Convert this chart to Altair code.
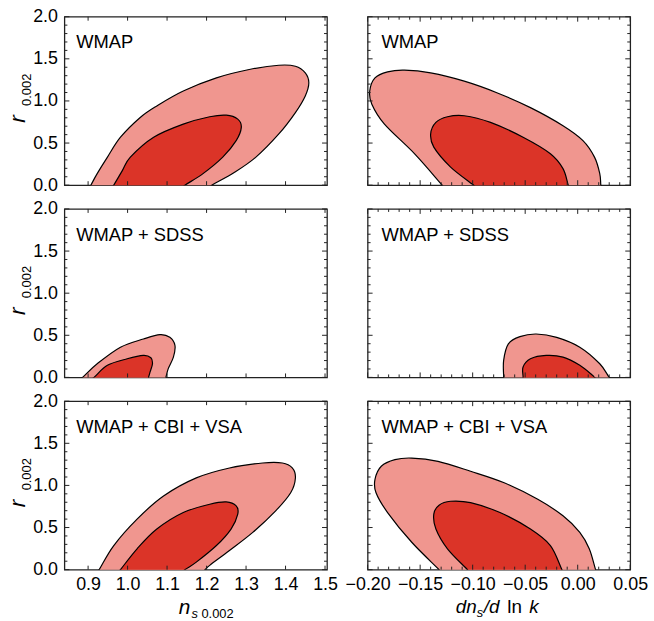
import altair as alt
import pandas as pd

# ---------------- data ----------------
# WMAP  (n_s vs r)
wmap_ns_outer_x = [0.907, 0.923, 0.949, 0.982, 1.032, 1.074, 1.141, 1.225, 1.308, 1.383, 1.425, 1.450, 1.459, 1.450, 1.425, 1.383, 1.325, 1.270, 1.213]
wmap_ns_outer_y = [0.000, 0.137, 0.333, 0.569, 0.804, 0.941, 1.118, 1.274, 1.373, 1.424, 1.412, 1.333, 1.215, 1.059, 0.862, 0.608, 0.333, 0.150, 0.000]
wmap_ns_inner_x = [0.965, 0.987, 1.007, 1.066, 1.141, 1.208, 1.250, 1.279, 1.288, 1.275, 1.241, 1.191, 1.145]
wmap_ns_inner_y = [0.000, 0.176, 0.333, 0.569, 0.725, 0.812, 0.831, 0.784, 0.686, 0.529, 0.333, 0.137, 0.000]
# WMAP  (dn_s/dlnk vs r)
wmap_run_outer_x = [-0.129, -0.155, -0.184, -0.196, -0.198, -0.193, -0.181, -0.165, -0.140, -0.108, -0.077, -0.045, -0.014, 0.005, 0.016, 0.021, 0.022]
wmap_run_outer_y = [0.000, 0.369, 0.725, 0.961, 1.118, 1.274, 1.345, 1.365, 1.333, 1.235, 1.098, 0.921, 0.706, 0.529, 0.333, 0.137, 0.000]
wmap_run_inner_x = [-0.099, -0.121, -0.137, -0.140, -0.135, -0.124, -0.108, -0.083, -0.052, -0.026, -0.014, -0.009]
wmap_run_inner_y = [0.000, 0.215, 0.451, 0.608, 0.745, 0.812, 0.824, 0.745, 0.569, 0.373, 0.196, 0.000]
# WMAP + SDSS
sdss_ns_outer_x = [0.886, 0.923, 0.982, 1.040, 1.082, 1.107, 1.120, 1.116, 1.103, 1.097]
sdss_ns_outer_y = [0.000, 0.162, 0.359, 0.456, 0.508, 0.476, 0.379, 0.241, 0.104, 0.000]
sdss_ns_inner_x = [0.915, 0.949, 0.999, 1.040, 1.059, 1.063, 1.057, 1.053]
sdss_ns_inner_y = [0.000, 0.144, 0.221, 0.261, 0.233, 0.162, 0.065, 0.000]
sdss_run_outer_x = [-0.0705, -0.0705, -0.066, -0.055, -0.0395, -0.020, 0.002, 0.021, 0.030]
sdss_run_outer_y = [0.000, 0.202, 0.398, 0.484, 0.515, 0.476, 0.359, 0.162, 0.000]
sdss_run_inner_x = [-0.052, -0.052, -0.045, -0.030, -0.014, 0.002, 0.014, 0.016]
sdss_run_inner_y = [0.000, 0.124, 0.221, 0.261, 0.241, 0.144, 0.026, 0.000]
# WMAP + CBI + VSA
cbi_ns_outer_x = [0.928, 0.965, 1.024, 1.091, 1.174, 1.258, 1.342, 1.392, 1.417, 1.425, 1.413, 1.375, 1.317, 1.258, 1.208, 1.196]
cbi_ns_outer_y = [0.000, 0.286, 0.600, 0.874, 1.089, 1.207, 1.266, 1.266, 1.207, 1.089, 0.913, 0.698, 0.442, 0.227, 0.051, 0.000]
cbi_ns_inner_x = [0.982, 1.024, 1.074, 1.141, 1.208, 1.250, 1.275, 1.279, 1.262, 1.225, 1.174, 1.145]
cbi_ns_inner_y = [0.000, 0.247, 0.482, 0.678, 0.776, 0.804, 0.756, 0.659, 0.482, 0.286, 0.089, 0.000]
cbi_run_outer_x = [-0.132, -0.158, -0.181, -0.192, -0.193, -0.187, -0.174, -0.158, -0.133, -0.102, -0.070, -0.038, -0.014, 0.002, 0.011, 0.017]
cbi_run_outer_y = [0.000, 0.325, 0.678, 0.913, 1.071, 1.227, 1.306, 1.325, 1.286, 1.168, 1.031, 0.835, 0.639, 0.442, 0.247, 0.000]
cbi_run_inner_x = [-0.105, -0.124, -0.135, -0.137, -0.132, -0.121, -0.102, -0.074, -0.045, -0.026, -0.015]
cbi_run_inner_y = [0.000, 0.247, 0.482, 0.659, 0.765, 0.812, 0.795, 0.678, 0.482, 0.286, 0.000]

panel_labels = ["WMAP", "WMAP + SDSS", "WMAP + CBI + VSA"]

y_major = [0.0, 0.5, 1.0, 1.5, 2.0]
y_minor = [0.1, 0.2, 0.3, 0.4, 0.6, 0.7, 0.8, 0.9, 1.1, 1.2, 1.3, 1.4, 1.6, 1.7, 1.8, 1.9]
ns_major = [0.9, 1.0, 1.1, 1.2, 1.3, 1.4, 1.5]
run_major = [-0.20, -0.15, -0.10, -0.05, 0.00, 0.05]
run_minor = [-0.19, -0.18, -0.17, -0.16, -0.14, -0.13, -0.12, -0.11, -0.09, -0.08, -0.07,
             -0.06, -0.04, -0.03, -0.02, -0.01, 0.01, 0.02, 0.03, 0.04]

# ---------------- styling ----------------
FONT = "Liberation Sans"
LIGHT = "#F0968F"
DARK = "#DB3428"
EDGE = "#222222"
W, H = 265, 170
NS_DOM = [0.84, 1.505]
RUN_DOM = [-0.20, 0.05]
BELOW = -0.15  # clip helper: contours are closed below the r = 0 edge, out of view


def contour_df(xs, ys):
    # continue the first and last edge a little below r = 0 so that the
    # clipped closed curve meets the lower frame cleanly
    x0, y0, x1, y1 = xs[0], ys[0], xs[1], ys[1]
    t0 = (y0 - BELOW) / max(y1 - y0, 1e-6)
    xa, ya, xb, yb = xs[-1], ys[-1], xs[-2], ys[-2]
    t1 = (ya - BELOW) / max(yb - ya, 1e-6)
    px = [x0 + (x0 - x1) * t0] + list(xs) + [xa + (xa - xb) * t1]
    py = [BELOW] + list(ys) + [BELOW]
    return pd.DataFrame({"x": px, "y": py, "o": list(range(len(px)))})


def one_row():
    return pd.DataFrame({"d": [0]})


def panel(outer, inner, label, col, bottom):
    xdom = NS_DOM if col == 0 else RUN_DOM
    if bottom:
        xaxis = alt.Axis(values=ns_major if col == 0 else run_major,
                         format=".1f" if col == 0 else ".2f",
                         title=None, labelPadding=6, labelFlush=False, labelOverlap=False)
    else:
        xaxis = alt.Axis(labels=False, title=None)
    if col == 0:
        yaxis = alt.Axis(values=y_major, format=".1f", title=None, labelPadding=7, labelFlush=False)
    else:
        yaxis = alt.Axis(labels=False, title=None)
    X = alt.X("x:Q", scale=alt.Scale(domain=xdom, nice=False, zero=False), axis=xaxis)
    Y = alt.Y("y:Q", scale=alt.Scale(domain=[0, 2], nice=False), axis=yaxis)

    layers = []
    for (cx, cy), color in ((outer, LIGHT), (inner, DARK)):
        layers.append(
            alt.Chart(contour_df(cx, cy)).mark_line(
                fill=color, stroke="black", strokeWidth=1.2,
                interpolate="cardinal-closed", clip=True
            ).encode(x=X, y=Y, order="o:Q")
        )

    # inward tick marks on all four sides
    def yticks(vals, L):
        df = pd.DataFrame({"y": vals})
        return [
            alt.Chart(df).mark_rule(color=EDGE, strokeWidth=1).encode(y=Y, x=alt.value(0), x2=alt.value(L)),
            alt.Chart(df).mark_rule(color=EDGE, strokeWidth=1).encode(y=Y, x=alt.value(W - L), x2=alt.value(W)),
        ]

    def xticks(vals, L):
        df = pd.DataFrame({"x": vals})
        return [
            alt.Chart(df).mark_rule(color=EDGE, strokeWidth=1).encode(x=X, y=alt.value(H), y2=alt.value(H - L)),
            alt.Chart(df).mark_rule(color=EDGE, strokeWidth=1).encode(x=X, y=alt.value(0), y2=alt.value(L)),
        ]

    layers += yticks(y_major, 5) + yticks(y_minor, 3)
    if col == 0:
        layers += xticks(ns_major, 4)
    else:
        layers += xticks(run_major, 5) + xticks(run_minor, 3)

    layers.append(
        alt.Chart(one_row()).mark_text(align="left", baseline="alphabetic", font=FONT,
                                       fontSize=18.5, color="black").encode(
            x=alt.value(12 if col == 0 else 14), y=alt.value(32), text=alt.value(label))
    )

    def txt(s, x, y, size, italic=False, angle=0):
        kw = dict(align="left", baseline="alphabetic", font=FONT, fontSize=size, color="black")
        if italic:
            kw["fontStyle"] = "italic"
        if angle:
            kw["angle"] = angle
        return alt.Chart(one_row()).mark_text(**kw).encode(
            x=alt.value(x), y=alt.value(y), text=alt.value(s))

    if col == 0:
        layers.append(txt("r", -39.5, 107, 23, italic=True, angle=270))
        layers.append(txt("0.002", -33.5, 90, 13, angle=270))
    if bottom and col == 0:
        layers.append(txt("n", 115.3, 215, 21, italic=True))
        layers.append(txt("s", 128.3, 219, 13, italic=True))
        layers.append(txt("0.002", 138.3, 219, 13))
    if bottom and col == 1:
        layers.append(txt("dn", 89, 214, 19, italic=True))
        layers.append(txt("s", 110, 218, 13, italic=True))
        layers.append(txt("/d", 117.3, 214, 19, italic=True))
        layers.append(txt("ln", 141, 214, 19))
        layers.append(txt("k", 163, 214, 19, italic=True))

    return alt.layer(*layers).properties(width=W, height=H)


rows = [
    ((wmap_ns_outer_x, wmap_ns_outer_y), (wmap_ns_inner_x, wmap_ns_inner_y),
     (wmap_run_outer_x, wmap_run_outer_y), (wmap_run_inner_x, wmap_run_inner_y)),
    ((sdss_ns_outer_x, sdss_ns_outer_y), (sdss_ns_inner_x, sdss_ns_inner_y),
     (sdss_run_outer_x, sdss_run_outer_y), (sdss_run_inner_x, sdss_run_inner_y)),
    ((cbi_ns_outer_x, cbi_ns_outer_y), (cbi_ns_inner_x, cbi_ns_inner_y),
     (cbi_run_outer_x, cbi_run_outer_y), (cbi_run_inner_x, cbi_run_inner_y)),
]

panels = []
for i, (no, ni, ro, ri) in enumerate(rows):
    bottom = i == len(rows) - 1
    panels.append(panel(no, ni, panel_labels[i], 0, bottom))
    panels.append(panel(ro, ri, panel_labels[i], 1, bottom))

chart = alt.concat(*panels, columns=2, spacing={"row": 24, "column": 41}, bounds="flush").properties(
    padding={"left": 6, "top": 4, "right": 5, "bottom": 0},
    background="white",
).configure_view(
    stroke=EDGE, strokeWidth=1.3
).configure_axis(
    grid=False, domain=False, ticks=False, labelFont=FONT, labelFontSize=18, labelColor="black"
)

chart.save("out.html", embed_options={"renderer": "svg", "actions": False})
